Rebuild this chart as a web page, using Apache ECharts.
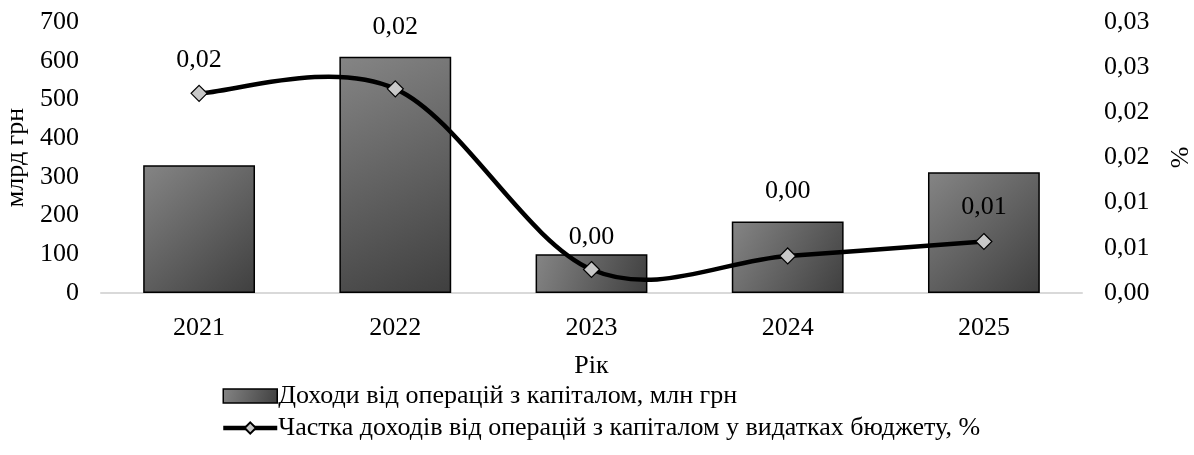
<!DOCTYPE html>
<html>
<head>
<meta charset="utf-8">
<script src="https://cdn.jsdelivr.net/npm/echarts@6/dist/echarts.min.js"></script>
<style>
html,body{margin:0;padding:0;background:#fff;}
#c{width:1194px;height:455px;}
</style>
</head>
<body>
<div id="c"></div>
<script>
const categories = ['2021', '2022', '2023', '2024', '2025'];
const incomeValues = [330, 610, 100, 185, 312];
const shareValues = [0.0221, 0.0226, 0.0026, 0.0041, 0.0057];
const leftTickLabels = ['0', '100', '200', '300', '400', '500', '600', '700'];
const rightTickLabels = ['0,00', '0,01', '0,01', '0,02', '0,02', '0,03', '0,03'];
const labelDistances = [12, 40, 11, 43, 13];

const seriesNames = [
  'Доходи від операцій з капіталом, млн грн',
  'Частка доходів від операцій з капіталом у видатках бюджету, %'
];

const FONT = 'Liberation Serif';
const FS = 26;

const barGradient = new echarts.graphic.LinearGradient(0, 0, 1, 1, [
  { offset: 0, color: '#858585' },
  { offset: 1, color: '#3f3f3f' }
]);

// Excel-like smoothed curve (Catmull-Rom) drawn through the axis scales
function renderCurveSegment(params, api) {
  const i = params.dataIndex;
  const n = shareValues.length;
  if (i >= n - 1) return null;
  const pt = k => {
    const j = Math.max(0, Math.min(n - 1, k));
    return api.coord([j, shareValues[j]]);
  };
  const p0 = pt(i - 1), p1 = pt(i), p2 = pt(i + 1), p3 = pt(i + 2);
  const t = 1 / 6;
  const c1 = [p1[0] + (p2[0] - p0[0]) * t, p1[1] + (p2[1] - p0[1]) * t];
  const c2 = [p2[0] - (p3[0] - p1[0]) * t, p2[1] - (p3[1] - p1[1]) * t];
  return {
    type: 'bezierCurve',
    shape: { x1: p1[0], y1: p1[1], x2: p2[0], y2: p2[1], cpx1: c1[0], cpy1: c1[1], cpx2: c2[0], cpy2: c2[1] },
    style: { stroke: '#000', lineWidth: 4.5, fill: null, lineCap: 'round' }
  };
}

const chart = echarts.init(document.getElementById('c'), null, { renderer: 'canvas' });
chart.setOption({
  animation: false,
  backgroundColor: '#fff',
  textStyle: { fontFamily: FONT, color: '#000' },
  grid: { left: 101, right: 112, top: 22, bottom: 162, containLabel: false, outerBoundsMode: 'none' },
  legend: {
    orient: 'vertical',
    left: 216,
    top: 378,
    itemGap: 6,
    itemWidth: 54,
    itemHeight: 14,
    textStyle: { fontFamily: FONT, fontSize: FS, color: '#000', padding: [0, 0, 0, -4] },
    data: [
      { name: seriesNames[0], icon: 'rect', itemStyle: { color: barGradient, borderColor: '#000', borderWidth: 1.5 } },
      { name: seriesNames[1], lineStyle: { color: '#000', width: 4.5, opacity: 1 } }
    ]
  },
  xAxis: {
    type: 'category',
    data: categories,
    name: 'Рік',
    nameLocation: 'middle',
    nameGap: 60,
    nameTextStyle: { fontFamily: FONT, fontSize: FS, color: '#000' },
    axisLine: { lineStyle: { color: '#d9d9d9', width: 2 } },
    axisTick: { show: false },
    axisLabel: { fontFamily: FONT, fontSize: FS, color: '#000', margin: 22 }
  },
  yAxis: [
    {
      type: 'value',
      min: 0,
      max: 700,
      interval: 100,
      name: 'млрд грн',
      nameLocation: 'middle',
      nameGap: 66,
      nameTextStyle: { fontFamily: FONT, fontSize: FS, color: '#000' },
      axisLine: { show: false },
      axisTick: { show: false },
      splitLine: { show: false },
      axisLabel: {
        fontFamily: FONT, fontSize: FS, color: '#000', margin: 22,
        formatter: (v, i) => leftTickLabels[i]
      }
    },
    {
      type: 'value',
      min: 0,
      max: 0.03,
      interval: 0.005,
      name: '%',
      nameLocation: 'middle',
      nameGap: 86,
      nameTextStyle: { fontFamily: FONT, fontSize: FS, color: '#000' },
      axisLine: { show: false },
      axisTick: { show: false },
      splitLine: { show: false },
      axisLabel: {
        fontFamily: FONT, fontSize: FS, color: '#000', margin: 22,
        formatter: (v, i) => rightTickLabels[i]
      }
    }
  ],
  series: [
    {
      name: seriesNames[0],
      type: 'bar',
      yAxisIndex: 0,
      barWidth: '57%',
      data: incomeValues,
      itemStyle: { color: barGradient, borderColor: '#000', borderWidth: 1.5 }
    },
    {
      name: 'curve',
      type: 'custom',
      yAxisIndex: 1,
      data: shareValues,
      renderItem: renderCurveSegment,
      silent: true,
      z: 4
    },
    {
      name: seriesNames[1],
      type: 'line',
      yAxisIndex: 1,
      symbol: 'diamond',
      symbolSize: 16,
      lineStyle: { color: '#000', width: 4.5, opacity: 0 },
      itemStyle: { color: '#c8c8c8', borderColor: '#000', borderWidth: 1.2 },
      data: shareValues.map((v, i) => ({
        value: v,
        label: { distance: labelDistances[i] }
      })),
      label: {
        show: true,
        position: 'top',
        fontFamily: FONT, fontSize: FS, color: '#000',
        formatter: p => p.value.toFixed(2).replace('.', ',')
      },
      z: 5
    }
  ]
});
</script>
</body>
</html>
